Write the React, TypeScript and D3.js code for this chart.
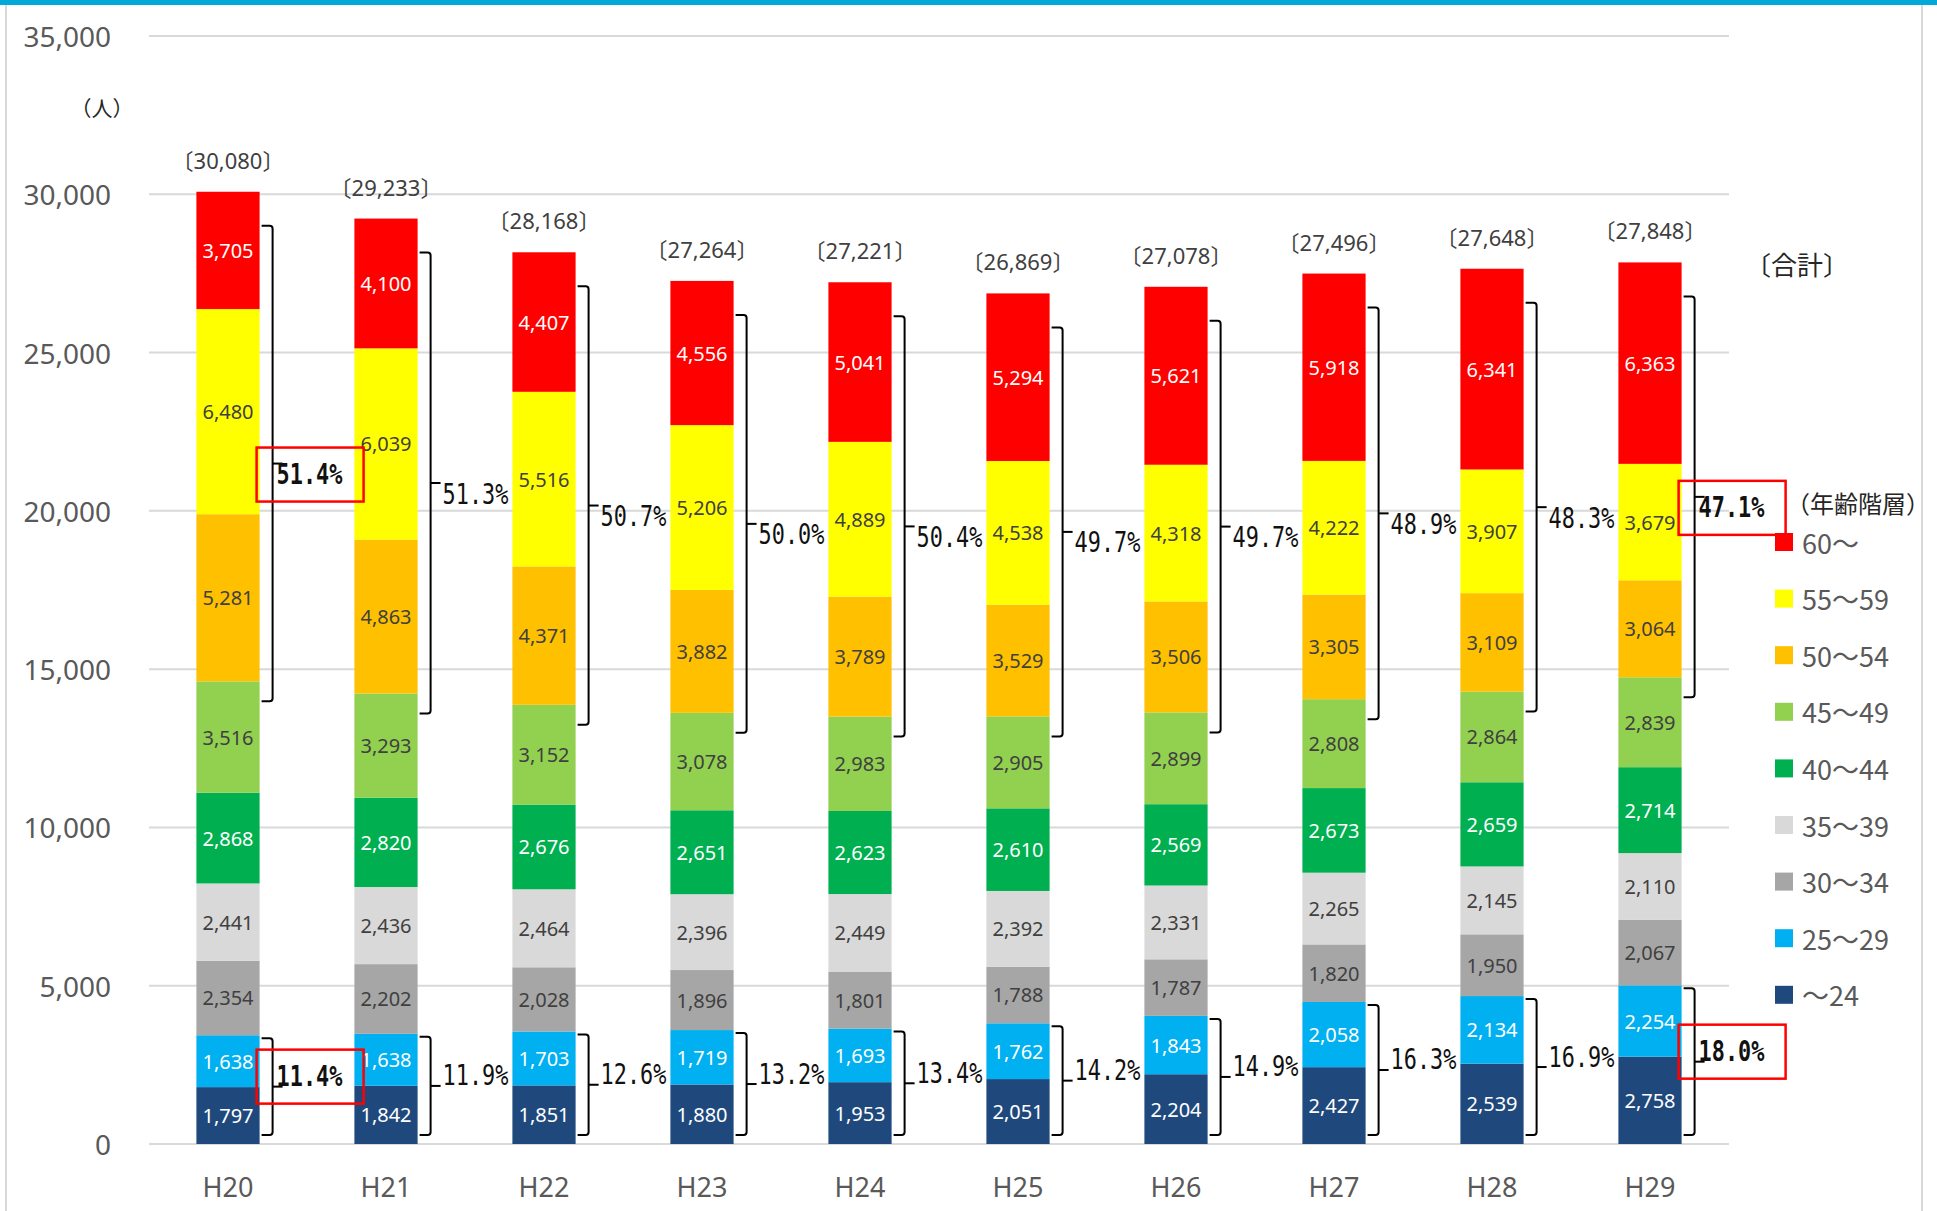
import React from 'react';
import * as d3 from 'd3';

const years = ['H20', 'H21', 'H22', 'H23', 'H24', 'H25', 'H26', 'H27', 'H28', 'H29'];
const totals = [30080, 29233, 28168, 27264, 27221, 26869, 27078, 27496, 27648, 27848];

// age groups, bottom of the stack first
const ageTo24 = [1797, 1842, 1851, 1880, 1953, 2051, 2204, 2427, 2539, 2758];
const age25to29 = [1638, 1638, 1703, 1719, 1693, 1762, 1843, 2058, 2134, 2254];
const age30to34 = [2354, 2202, 2028, 1896, 1801, 1788, 1787, 1820, 1950, 2067];
const age35to39 = [2441, 2436, 2464, 2396, 2449, 2392, 2331, 2265, 2145, 2110];
const age40to44 = [2868, 2820, 2676, 2651, 2623, 2610, 2569, 2673, 2659, 2714];
const age45to49 = [3516, 3293, 3152, 3078, 2983, 2905, 2899, 2808, 2864, 2839];
const age50to54 = [5281, 4863, 4371, 3882, 3789, 3529, 3506, 3305, 3109, 3064];
const age55to59 = [6480, 6039, 5516, 5206, 4889, 4538, 4318, 4222, 3907, 3679];
const age60plus = [3705, 4100, 4407, 4556, 5041, 5294, 5621, 5918, 6341, 6363];

const seriesKeys = ['～24', '25～29', '30～34', '35～39', '40～44', '45～49', '50～54', '55～59', '60～'];
const seriesValues = [ageTo24, age25to29, age30to34, age35to39, age40to44, age45to49, age50to54, age55to59, age60plus];
const seriesColors = ['#1F497D', '#00B0F0', '#A6A6A6', '#D9D9D9', '#00B050', '#92D050', '#FFC000', '#FFFF00', '#FF0000'];
const labelColors = ['#fff', '#fff', '#404040', '#404040', '#fff', '#404040', '#404040', '#404040', '#fff'];

const yTicks = [0, 5000, 10000, 15000, 20000, 25000, 30000, 35000];
const highlighted = ['H20', 'H29'];

const W = 1937;
const H = 1211;
const fmt = d3.format(',');
const numFont = '"Noto Sans", "Noto Sans CJK JP", sans-serif';
const jpFont = '"Noto Sans CJK JP", sans-serif';
const pctFont = '"DejaVu Sans Mono", monospace';

type Row = { year: string; [k: string]: number | string };

export default function App() {
  const rows: Row[] = years.map((year, i) => {
    const r: Row = { year };
    seriesKeys.forEach((k, j) => (r[k] = seriesValues[j][i]));
    return r;
  });

  const x = d3.scaleBand().domain(years).range([149, 1729]).paddingInner(0.6).paddingOuter(0.3);
  const y = d3.scaleLinear().domain([0, 35000]).range([1144, 36]);
  const stacked = d3.stack<Row>().keys(seriesKeys).value((d, k) => d[k] as number)(rows);

  const bracketPath = (x0: number, top: number, bottom: number) => {
    const x1 = x0 + 11;
    return `M${x0},${top}H${x1 - 3}Q${x1},${top} ${x1},${top + 3}V${bottom - 3}Q${x1},${bottom} ${x1 - 3},${bottom}H${x0}`;
  };

  const brackets = years.flatMap((year, i) => {
    const right = (x(year) as number) + x.bandwidth();
    const total = totals[i];
    const upper = age50to54[i] + age55to59[i] + age60plus[i];
    const lower = ageTo24[i] + age25to29[i];
    return [
      { year, right, top: y(total) + 34, bottom: y(total - upper) + 20, pct: upper / total, dy: 11 },
      { year, right, top: y(lower) + 3, bottom: y(0) - 9, pct: lower / total, dy: -10 },
    ];
  });

  return (
    <>
      <style>{'body{margin:0}'}</style>
      <svg width={W} height={H} style={{ display: 'block', background: '#fff' }}>
        <rect x={0} y={0} width={W} height={5} fill="#00A9D9" />
        <line x1={6} x2={6} y1={5} y2={H} stroke="#D9D9D9" strokeWidth={2} />
        <line x1={1922} x2={1922} y1={5} y2={H} stroke="#D9D9D9" strokeWidth={2} />

        {yTicks.map((t) => (
          <g key={t}>
            <line x1={149} x2={1729} y1={y(t)} y2={y(t)} stroke="#D9D9D9" strokeWidth={2} />
            <text x={111} y={y(t)} textAnchor="end" dominantBaseline="central" fontSize={28} fill="#595959" fontFamily={numFont}>
              {fmt(t)}
            </text>
          </g>
        ))}
        <text x={102} y={107} textAnchor="middle" dominantBaseline="central" fontSize={21} fill="#262626" fontFamily={jpFont}>
          （人）
        </text>

        {stacked.map((s, j) => (
          <g key={s.key}>
            {s.map((d) => {
              const yr = d.data.year;
              const y0 = y(d[0]);
              const y1 = y(d[1]);
              return (
                <g key={yr}>
                  <rect x={x(yr)} y={y1} width={x.bandwidth()} height={y0 - y1} fill={seriesColors[j]} />
                  <text
                    x={(x(yr) as number) + x.bandwidth() / 2}
                    y={(y0 + y1) / 2}
                    textAnchor="middle"
                    dominantBaseline="central"
                    fontSize={20}
                    fill={labelColors[j]}
                    fontFamily={numFont}
                  >
                    {fmt(d[1] - d[0])}
                  </text>
                </g>
              );
            })}
          </g>
        ))}

        {years.map((yr, i) => (
          <g key={yr}>
            <text
              x={(x(yr) as number) + x.bandwidth() / 2}
              y={y(totals[i]) - 32}
              textAnchor="middle"
              dominantBaseline="central"
              fontSize={22}
              fill="#404040"
              fontFamily={numFont}
            >
              {`〔${fmt(totals[i])}〕`}
            </text>
            <text
              x={(x(yr) as number) + x.bandwidth() / 2}
              y={1186}
              textAnchor="middle"
              dominantBaseline="central"
              fontSize={27}
              fill="#595959"
              fontFamily={numFont}
            >
              {yr}
            </text>
          </g>
        ))}

        {brackets.map((b, k) => {
          const mid = (b.top + b.bottom) / 2;
          const vx = b.right + 13;
          const hl = highlighted.includes(b.year);
          const tx = hl ? b.right + 17 : b.right + 25;
          const ty = mid + b.dy;
          return (
            <g key={k}>
              <path d={bracketPath(b.right + 2, b.top, b.bottom)} fill="none" stroke="#000" strokeWidth={2} />
              <line x1={vx} x2={vx + 10} y1={mid} y2={mid} stroke="#000" strokeWidth={2} />
              {hl && <rect x={tx - 20} y={ty - 27} width={107} height={54} fill="none" stroke="#FF0000" strokeWidth={2.5} />}
              <text
                transform={`translate(${tx},${ty}) scale(0.78,1)`}
                dominantBaseline="central"
                fontSize={28}
                fontWeight={hl ? 'bold' : 'normal'}
                fill="#111"
                fontFamily={pctFont}
              >
                {`${(b.pct * 100).toFixed(1)}%`}
              </text>
            </g>
          );
        })}

        <text x={1745} y={263} dominantBaseline="central" fontSize={26} fill="#262626" fontFamily={jpFont}>
          〔合計〕
        </text>
        <text x={1786} y={502} dominantBaseline="central" fontSize={24} fill="#262626" fontFamily={jpFont}>
          （年齢階層）
        </text>
        {[...seriesKeys].reverse().map((k, i) => {
          const j = seriesKeys.length - 1 - i;
          const cy = 542 + i * 56.6;
          return (
            <g key={k}>
              <rect x={1775} y={cy - 9} width={18} height={18} fill={seriesColors[j]} />
              <text x={1802} y={cy} dominantBaseline="central" fontSize={27} fill="#595959" fontFamily={jpFont}>
                {k}
              </text>
            </g>
          );
        })}
      </svg>
    </>
  );
}
